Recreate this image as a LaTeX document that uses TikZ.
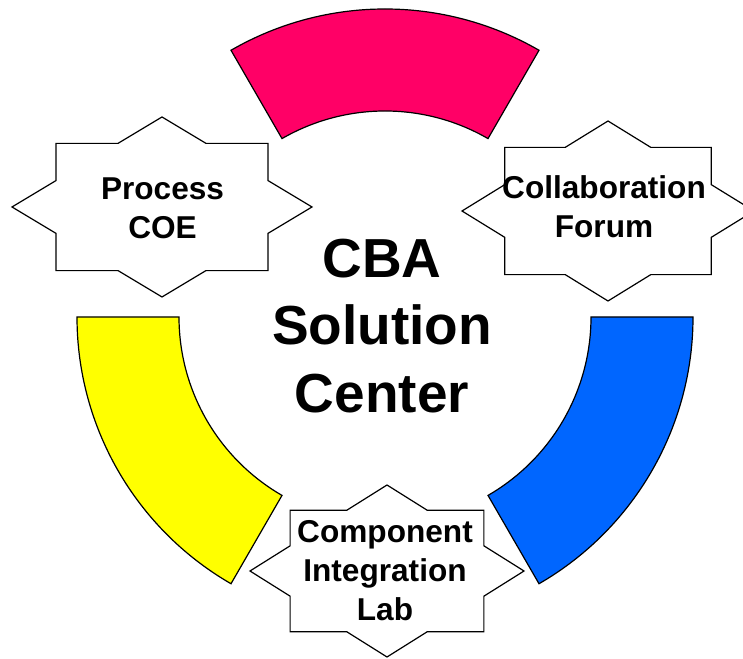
\documentclass[tikz,border=0pt]{standalone}
\usepackage{fontspec}
\setmainfont{Liberation Sans}
\definecolor{segmag}{HTML}{FF0066}
\definecolor{segyel}{HTML}{FFFF00}
\definecolor{segblu}{HTML}{0066FF}
\newcommand\eightstar[3]{%
  \draw[starline, shift={(#1)}, xscale=#2, yscale=#3]
    (0:1) -- (22.5:0.7654) -- (45:1) -- (67.5:0.7654) -- (90:1) -- (112.5:0.7654)
    -- (135:1) -- (157.5:0.7654) -- (180:1) -- (202.5:0.7654) -- (225:1)
    -- (247.5:0.7654) -- (270:1) -- (292.5:0.7654) -- (315:1) -- (337.5:0.7654) -- cycle;}
\newcommand\ringseg[3]{%
  \draw[seg, fill=#3] ([shift={(#1:308pt)}]c) arc[start angle=#1, end angle=#2, radius=308pt]
    -- ([shift={(#2:206pt)}]c) arc[start angle=#2, end angle=#1, radius=206pt] -- cycle;}
\begin{document}
\begin{tikzpicture}[x=1pt,y=1pt,
  seg/.style={draw=black, line width=1.2pt, line join=miter},
  starline/.style={draw=black, fill=white, line width=1.2pt, line join=miter},
  lbl/.style={font=\fontsize{31.6}{39}\selectfont\bfseries, align=center, inner sep=0pt},
  big/.style={font=\fontsize{55}{67.5}\selectfont\bfseries, align=center, inner sep=0pt}]
\useasboundingbox (0,0) rectangle (743,658);
\coordinate (c) at (385,341);
% ring segments
\ringseg{60}{120}{segmag}
\ringseg{180}{240}{segyel}
\ringseg{300}{360}{segblu}
% stars
\coordinate (sp) at (162,451);
\coordinate (sf) at (608,447);
\coordinate (sc) at (387,87);
\eightstar{sp}{150}{90}
\eightstar{sf}{146}{90}
\eightstar{sc}{137}{86}
% texts
\node[lbl] (tp) at (162.5,450) {Process\\COE};
\node[lbl] (tf) at (604,451) {Collaboration\\Forum};
\node[lbl] (tc) at (385,87) {Component\\Integration\\Lab};
\node[big] (tm) at (382,332) {CBA\\Solution\\Center};
\end{tikzpicture}
\end{document}
